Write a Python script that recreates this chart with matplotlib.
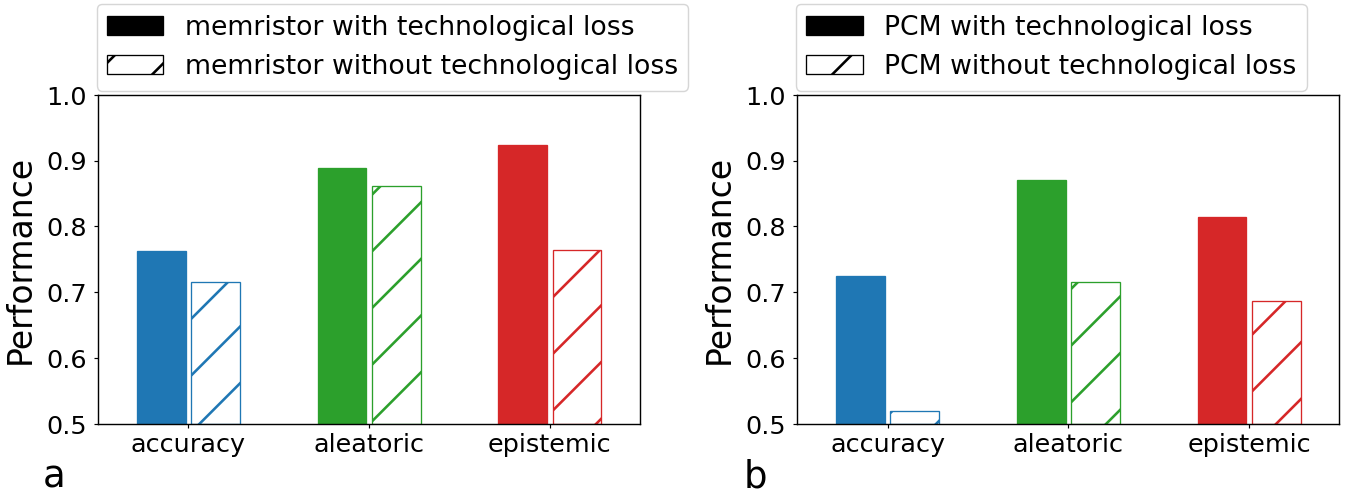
import numpy as np
import matplotlib
matplotlib.use("Agg")
import matplotlib.pyplot as plt
from matplotlib.patches import Patch

categories = ["accuracy", "aleatoric", "epistemic"]
colors = ["tab:blue", "tab:green", "tab:red"]

# panel a: memristor
mem_with = [0.762, 0.889, 0.923]
mem_without = [0.715, 0.861, 0.764]
# panel b: PCM
pcm_with = [0.725, 0.870, 0.815]
pcm_without = [0.520, 0.715, 0.687]

panels = [
    ("memristor", mem_with, mem_without, "a"),
    ("PCM", pcm_with, pcm_without, "b"),
]

DPI = 340
plt.rcParams["hatch.linewidth"] = 0.55
plt.rcParams["axes.linewidth"] = 0.3

fig = plt.figure(figsize=(1346.4 / DPI, 496.4 / DPI), dpi=DPI)
W, H = 1346.0, 496.0
ax_boxes = [(98, 640), (797, 1339)]
letter_x = [43, 743]

x = np.arange(len(categories))
bw = 0.27
for (name, with_loss, without_loss, letter), (x0, x1), lx in zip(panels, ax_boxes, letter_x):
    ax = fig.add_axes([x0 / W, (H - 424) / H, (x1 - x0) / W, (424 - 95) / H])
    for i in range(len(categories)):
        ax.bar(x[i] - 0.15, with_loss[i] - 0.5, bw, bottom=0.5, color=colors[i],
               edgecolor=colors[i], linewidth=0.28)
        ax.bar(x[i] + 0.15, without_loss[i] - 0.5, bw, bottom=0.5, facecolor="white",
               edgecolor=colors[i], hatch="//", linewidth=0.28)
    ax.set_xlim(-0.5, 2.5)
    ax.set_ylim(0.5, 1.0)
    ax.set_xticks(x)
    ax.set_xticklabels(categories)
    ax.set_yticks([0.5, 0.6, 0.7, 0.8, 0.9, 1.0])
    ax.set_yticklabels(["0.5", "0.6", "0.7", "0.8", "0.9", "1.0"])
    ax.tick_params(labelsize=5.4, length=0.85, width=0.25)
    ax.tick_params(axis="x", pad=1.0)
    ax.tick_params(axis="y", pad=1.5)
    ax.set_ylabel("Performance", fontsize=7.0, labelpad=2)

    handles = [Patch(facecolor="black", edgecolor="black", linewidth=0.28),
               Patch(facecolor="white", edgecolor="black", hatch="//", linewidth=0.28)]
    labels = [name + " with technological loss", name + " without technological loss"]
    leg = ax.legend(handles, labels, loc="lower left", bbox_to_anchor=(-0.01, 1.0),
                    borderaxespad=0.15, fontsize=5.65, handlelength=2.1,
                    handletextpad=0.8, labelspacing=0.5, borderpad=0.4,
                    frameon=True)
    leg.get_frame().set_linewidth(0.3)

    fig.text(lx / W, 0.5 / H, letter, fontsize=7.8, ha="left", va="bottom")

fig.savefig("out.png", dpi=DPI)
